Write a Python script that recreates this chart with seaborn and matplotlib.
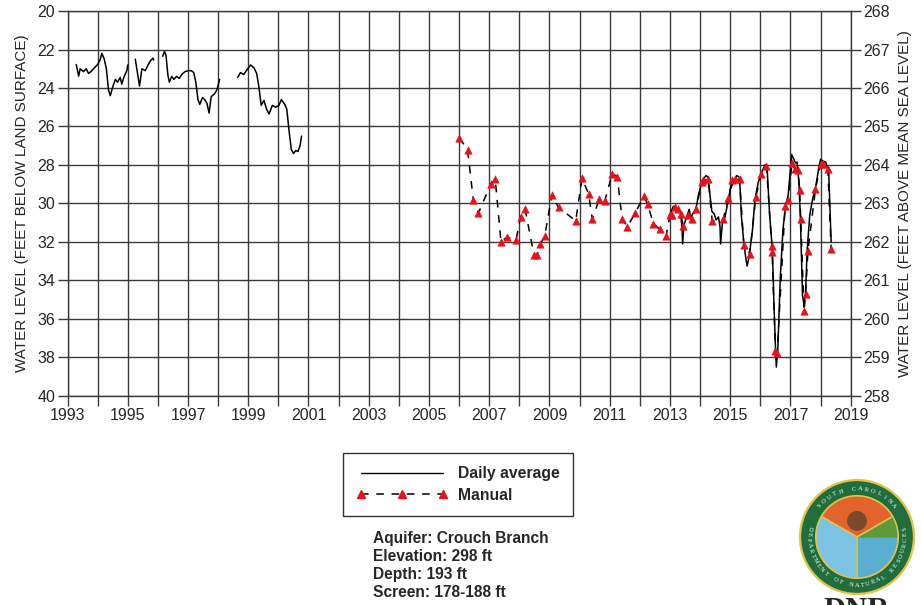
import numpy as np
import pandas as pd
import seaborn as sns
import matplotlib.pyplot as plt
from matplotlib.lines import Line2D
from matplotlib.patches import Circle, Wedge

daily_a_year = [1993.29, 1993.37, 1993.42, 1993.53, 1993.62, 1993.70, 1993.81, 1993.92, 1994.0,
                1994.09, 1994.14, 1994.22, 1994.29, 1994.36, 1994.42, 1994.51, 1994.59, 1994.66,
                1994.75, 1994.80, 1994.88, 1994.97, 1995.0]
daily_a_depth = [22.78, 23.38, 23.0, 23.15, 23.0, 23.25, 23.1, 22.9, 22.78,
                 22.5, 22.2, 22.5, 23.0, 24.1, 24.4, 23.9, 23.55, 23.7,
                 23.45, 23.8, 23.4, 23.1, 22.8]

daily_b_year = [1995.25, 1995.39, 1995.47, 1995.58, 1995.69, 1995.77, 1995.84, 1995.86]
daily_b_depth = [22.5, 23.9, 23.0, 23.1, 22.75, 22.55, 22.45, 22.55]

daily_c_year = [1996.16, 1996.22, 1996.27, 1996.33, 1996.38, 1996.46, 1996.53, 1996.62, 1996.71,
                1996.79, 1996.90, 1997.0, 1997.11, 1997.19, 1997.26, 1997.33, 1997.39, 1997.48,
                1997.55, 1997.63, 1997.70, 1997.77, 1997.88, 1997.96, 1998.05]
daily_c_depth = [22.35, 22.1, 22.3, 23.3, 23.7, 23.4, 23.55, 23.4, 23.5,
                 23.3, 23.15, 23.1, 23.1, 23.2, 23.7, 24.6, 24.85, 24.5,
                 24.6, 24.8, 25.3, 24.45, 24.3, 24.1, 23.55]

daily_d_year = [1998.65, 1998.74, 1998.85, 1998.96, 1999.08, 1999.19, 1999.28, 1999.35, 1999.43,
                1999.52, 1999.61, 1999.69, 1999.80, 1999.91, 2000.02, 2000.10, 2000.21, 2000.28,
                2000.36, 2000.43, 2000.50, 2000.58, 2000.65, 2000.72, 2000.77]
daily_d_depth = [23.45, 23.2, 23.3, 23.05, 22.8, 22.95, 23.25, 23.9, 24.9,
                 24.65, 25.1, 25.35, 24.9, 25.0, 24.9, 24.6, 24.85, 25.1,
                 26.3, 27.2, 27.4, 27.25, 27.3, 27.0, 26.5]

daily_e_year = [2012.95, 2013.0, 2013.11, 2013.19, 2013.27, 2013.35, 2013.40, 2013.42, 2013.46,
                2013.55, 2013.64, 2013.68, 2013.77, 2013.86, 2013.94, 2014.02, 2014.09, 2014.20,
                2014.27, 2014.33, 2014.39, 2014.47, 2014.53, 2014.61, 2014.66, 2014.68, 2014.74,
                2014.82, 2014.94, 2015.0, 2015.11, 2015.22, 2015.31, 2015.37, 2015.44, 2015.50,
                2015.56, 2015.63, 2015.74, 2015.82, 2015.93, 2016.04, 2016.15, 2016.22, 2016.31,
                2016.40, 2016.45, 2016.50, 2016.53, 2016.58, 2016.66, 2016.75, 2016.84, 2016.92,
                2017.0, 2017.04, 2017.11, 2017.17, 2017.22, 2017.28, 2017.33, 2017.40, 2017.44,
                2017.50, 2017.55, 2017.64, 2017.73, 2017.84, 2017.95, 2018.0, 2018.08, 2018.17,
                2018.27, 2018.35]
daily_e_depth = [30.7, 30.55, 30.15, 30.2, 30.35, 30.45, 31.3, 32.1, 31.15,
                 30.7, 30.3, 30.75, 30.5, 30.3, 29.6, 29.1, 28.75, 28.55,
                 28.65, 29.6, 30.4, 30.55, 30.85, 30.7, 31.2, 32.1, 31.0,
                 30.75, 29.8, 29.25, 28.9, 28.55, 28.65, 30.65, 31.85, 32.65,
                 33.25, 32.75, 31.35, 29.8, 28.9, 28.4, 28.0, 28.05, 30.65,
                 32.4, 35.15, 37.4, 38.5, 37.55, 33.9, 31.35, 30.1, 29.6,
                 28.2, 27.45, 27.7, 27.9, 27.85, 28.9, 30.8, 34.8, 35.15,
                 34.7, 32.5, 30.6, 29.8, 29.1, 28.05, 27.7, 27.8, 27.85,
                 28.4, 32.0]

manual_year = [2006.01, 2006.28, 2006.47, 2006.64, 2007.05, 2007.20, 2007.39, 2007.58, 2007.89,
               2008.04, 2008.19, 2008.49, 2008.57, 2008.70, 2008.84, 2009.08, 2009.30, 2009.87,
               2010.08, 2010.30, 2010.42, 2010.66, 2010.84, 2011.08, 2011.25, 2011.41, 2011.58,
               2011.85, 2012.13, 2012.26, 2012.45, 2012.67, 2012.87, 2013.0, 2013.08, 2013.17,
               2013.28, 2013.35, 2013.44, 2013.61, 2013.72, 2013.86, 2014.05, 2014.11, 2014.27,
               2014.40, 2014.77, 2014.94, 2015.07, 2015.15, 2015.31, 2015.45, 2015.65, 2015.85,
               2016.03, 2016.20, 2016.38, 2016.39, 2016.50, 2016.56, 2016.82, 2016.92, 2017.05,
               2017.14, 2017.25, 2017.30, 2017.34, 2017.45, 2017.50, 2017.58, 2017.83, 2018.0,
               2018.08, 2018.24, 2018.35]
manual_depth = [26.6, 27.2, 29.8, 30.5, 29.0, 28.75, 32.0, 31.75, 31.9,
                30.7, 30.3, 32.7, 32.7, 32.1, 31.7, 29.55, 30.2, 30.9,
                28.7, 29.5, 30.8, 29.75, 29.85, 28.45, 28.6, 30.8, 31.2,
                30.5, 29.6, 30.05, 31.05, 31.35, 31.7, 30.6, 30.6, 30.2,
                30.3, 30.55, 31.15, 30.6, 30.8, 30.3, 28.9, 28.8, 28.75,
                30.9, 30.8, 29.7, 28.8, 28.75, 28.75, 32.15, 32.6, 29.65,
                28.45, 28.05, 32.2, 32.5, 37.65, 37.75, 30.15, 29.8, 27.9,
                28.2, 28.25, 29.3, 30.8, 35.6, 34.7, 32.45, 29.25, 27.95,
                27.95, 28.2, 32.35]

year_ticks = list(range(1993, 2020))
year_labels = [str(y) if y % 2 == 1 else '' for y in year_ticks]
depth_ticks = list(range(20, 41, 2))
elev_ticks = list(range(258, 269))

well_info = ['Aquifer: Crouch Branch', 'Elevation: 298 ft', 'Depth: 193 ft', 'Screen: 178-188 ft']

# ---------------- figure ----------------
sns.set_theme(style='white')
plt.rcParams['font.family'] = ['Liberation Sans', 'DejaVu Sans']

fig = plt.figure(figsize=(9.21, 6.05), dpi=100)
ax = fig.add_axes([0.0733, 0.3455, 0.8504, 0.6363])

daily_segments = [(daily_a_year, daily_a_depth), (daily_b_year, daily_b_depth),
                  (daily_c_year, daily_c_depth), (daily_d_year, daily_d_depth),
                  (daily_e_year, daily_e_depth)]

manual = pd.DataFrame({'year': manual_year, 'depth': manual_depth})
sns.lineplot(data=manual, x='year', y='depth', ax=ax, sort=False, estimator=None,
             color='black', lw=1.1, linestyle=(0, (5, 5)), zorder=3)
for xs, ys in daily_segments:
    sns.lineplot(x=xs, y=ys, ax=ax, sort=False, estimator=None, color='black', lw=1.1, zorder=4)
sns.scatterplot(data=manual, x='year', y='depth', ax=ax, marker='^', color='#e8101a',
                edgecolor='#e8101a', s=28, zorder=5)

ax.set_xlim(1993, 2019)
ax.set_ylim(40, 20)
ax.set_xticks(year_ticks)
ax.set_xticklabels(year_labels)
ax.set_yticks(depth_ticks)
ax.grid(True, color='#3a3a3a', lw=1.0)
ax.set_xlabel('')
ax.set_ylabel('WATER LEVEL (FEET BELOW LAND SURFACE)', fontsize=11, labelpad=6)
ax.tick_params(axis='both', direction='out', length=7, width=1.0, color='#3a3a3a',
               labelsize=11.5, pad=2, left=True, bottom=True)
for sp in ax.spines.values():
    sp.set_color('#3a3a3a')
    sp.set_linewidth(1.0)

ax2 = ax.twinx()
ax2.set_ylim(258, 268)
ax2.set_yticks(elev_ticks)
ax2.tick_params(axis='y', direction='out', length=7, width=1.0, color='#3a3a3a',
                labelsize=11.5, pad=2, right=True)
ax2.set_ylabel('WATER LEVEL (FEET ABOVE MEAN SEA LEVEL)', fontsize=11, rotation=90, labelpad=6)
ax2.grid(False)
for sp in ax2.spines.values():
    sp.set_visible(False)

# legend below the plot
handles = [Line2D([], [], color='black', lw=1.0),
           Line2D([], [], color='black', lw=1.1, linestyle=(0, (5, 5)), marker='^',
                  markerfacecolor='#e8101a', markeredgecolor='#e8101a', markersize=6)]
leg = fig.legend(handles, ['Daily average', 'Manual'], loc='upper left',
                 bbox_to_anchor=(343 / 921, 1 - 453 / 605), borderaxespad=0,
                 prop={'weight': 'bold', 'size': 11.3}, handlelength=5.8, handletextpad=0.65,
                 borderpad=0.85, labelspacing=0.4, numpoints=3, fancybox=False,
                 frameon=True, edgecolor='#333333', framealpha=1)
leg.get_frame().set_linewidth(1.0)

for i, line in enumerate(well_info):
    fig.text(373 / 921, 1 - (539 + 17.7 * i) / 605, line, fontsize=11.2, fontweight='bold',
             va='center', ha='left')

# SCDNR seal
lax = fig.add_axes([(857 - 62) / 921, 1 - (537 + 62) / 605, 124 / 921, 124 / 605])
lax.set_xlim(-1.08, 1.08)
lax.set_ylim(-1.08, 1.08)
lax.set_aspect('equal')
lax.axis('off')
lax.add_patch(Circle((0, 0), 1.0, color='#e3c24a'))
lax.add_patch(Circle((0, 0), 0.96, color='#1f6e3c'))
lax.add_patch(Circle((0, 0), 0.72, color='#e3c24a'))
lax.add_patch(Wedge((0, 0), 0.69, 30, 150, color='#e2632c'))
lax.add_patch(Wedge((0, 0), 0.69, 150, 270, color='#7cc3e3'))
lax.add_patch(Wedge((0, 0), 0.69, 270, 390, color='#5aaed0'))
lax.add_patch(Wedge((0, 0), 0.69, 0, 30, color='#5e9a3a'))
for ang in [30, 150, 270]:
    a = np.deg2rad(ang)
    lax.plot([0, 0.69 * np.cos(a)], [0, 0.69 * np.sin(a)], color='#e3c24a', lw=1.2)
lax.add_patch(Circle((0.0, 0.28), 0.16, color='#7a4a2a'))


def arc_text(axis, text, radius, a0, a1, top):
    n = len(text)
    for k, ch in enumerate(text):
        ang = a0 + (a1 - a0) * k / (n - 1)
        r = np.deg2rad(ang)
        rot = ang - 90 if top else ang + 90
        axis.text(radius * np.cos(r), radius * np.sin(r), ch, rotation=rot, ha='center',
                  va='center', fontsize=4.6, color='white', family='Liberation Serif')


arc_text(lax, 'SOUTH CAROLINA', 0.84, 140, 40, True)
arc_text(lax, 'DEPARTMENT OF NATURAL RESOURCES', 0.84, 170, 370, False)

# "DNR" word under the seal, cut by the page edge as in the original
fig.text(857 / 921, 1 - 597 / 605, 'DNR', fontsize=22, family='Liberation Serif',
         fontweight='bold', ha='center', va='top')

fig.savefig('out.png', dpi=100)
